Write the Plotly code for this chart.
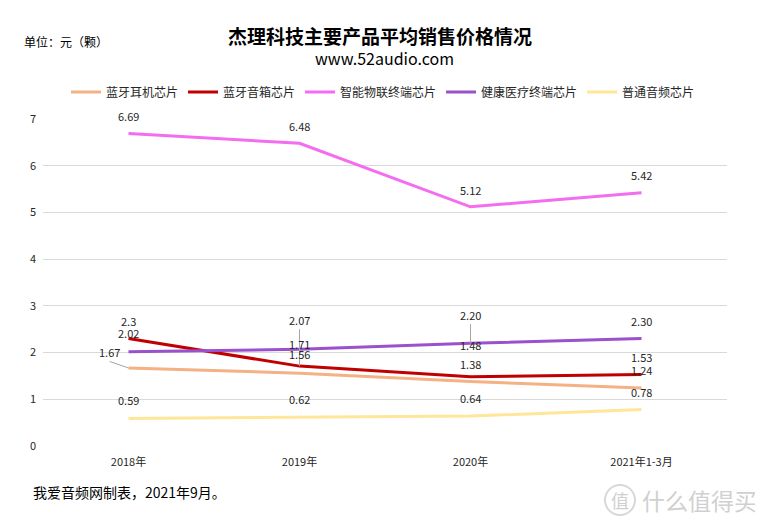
import plotly.graph_objects as go

# ---------------- data ----------------
categories = ["2018年", "2019年", "2020年", "2021年1-3月"]
series_names = ["蓝牙耳机芯片", "蓝牙音箱芯片", "智能物联终端芯片", "健康医疗终端芯片", "普通音频芯片"]
earphone = [1.67, 1.56, 1.38, 1.24]
speaker = [2.30, 1.71, 1.48, 1.53]
iot = [6.69, 6.48, 5.12, 5.42]
health = [2.02, 2.07, 2.20, 2.30]
audio = [0.59, 0.62, 0.64, 0.78]
y_ticks = [0, 1, 2, 3, 4, 5, 6, 7]

values = {
    "蓝牙耳机芯片": earphone,
    "蓝牙音箱芯片": speaker,
    "智能物联终端芯片": iot,
    "健康医疗终端芯片": health,
    "普通音频芯片": audio,
}

# ---------------- styles ----------------
colors = {
    "蓝牙耳机芯片": "#F4B183",
    "蓝牙音箱芯片": "#C00000",
    "智能物联终端芯片": "#F46CF0",
    "健康医疗终端芯片": "#9A52CC",
    "普通音频芯片": "#FFE699",
}
# label offsets (dx in category units, dy in value units) above each point
label_dy = {
    "蓝牙耳机芯片": [0.34, 0.41, 0.38, 0.39],
    "蓝牙音箱芯片": [0.38, 0.48, 0.68, 0.38],
    "智能物联终端芯片": [0.37, 0.37, 0.37, 0.38],
    "健康医疗终端芯片": [0.40, 0.63, 0.61, 0.38],
    "普通音频芯片": [0.40, 0.39, 0.39, 0.38],
}
label_dx = {("蓝牙耳机芯片", 0): -0.11}
label_fmt = {("蓝牙音箱芯片", 0): "{:.1f}"}
# leader lines: (label series, category index, end-point series)
leaders = [("蓝牙耳机芯片", 0, "蓝牙耳机芯片"),
           ("健康医疗终端芯片", 1, "蓝牙音箱芯片"),
           ("健康医疗终端芯片", 2, "健康医疗终端芯片")]

FONT = "Noto Sans CJK SC, Noto Sans, sans-serif"
OFF = 8  # page body margin
W, H = 763 - OFF, 529 - OFF
L, R, T, B = 43 - OFF, 36, 119 - OFF, 83
PW, PH = W - L - R, H - T - B
YMAX = 7
NCAT = len(categories)


def px(x):
    return (x - OFF - L) / PW


def py(y):
    return (H - B - (y - OFF)) / PH


def cat_paper(c):
    return (c + 0.5) / NCAT


fig = go.Figure()
for name in series_names:
    fig.add_trace(go.Scatter(
        x=list(range(NCAT)), y=values[name], name=name, mode="lines",
        line=dict(color=colors[name], width=3), hoverinfo="skip",
    ))

annotations = []
for name in series_names:
    for i, v in enumerate(values[name]):
        fmt = label_fmt.get((name, i), "{:.2f}")
        annotations.append(dict(
            x=cat_paper(i + label_dx.get((name, i), 0)),
            y=(v + label_dy[name][i]) / YMAX,
            xref="paper", yref="paper", text=fmt.format(v), showarrow=False,
            font=dict(family=FONT, size=11, color="#262626"),
            xanchor="center", yanchor="middle",
        ))

shapes = []
for lab, i, end in leaders:
    x0 = i + label_dx.get((lab, i), 0)
    y0 = values[lab][i] + label_dy[lab][i] - 0.2
    shapes.append(dict(type="line", xref="x", yref="y", x0=x0, y0=y0,
                       x1=i, y1=values[end][i], line=dict(color="#A6A6A6", width=1)))

# texts
annotations += [
    dict(x=px(380), y=py(36), xref="paper", yref="paper", showarrow=False,
         text="<b>杰理科技主要产品平均销售价格情况</b>", xanchor="center", yanchor="middle",
         font=dict(family=FONT, size=19, color="#000000")),
    dict(x=px(384), y=py(58), xref="paper", yref="paper", showarrow=False,
         text="www.52audio.com", xanchor="center", yanchor="middle",
         font=dict(family=FONT, size=16, color="#000000")),
    dict(x=px(22), y=py(41), xref="paper", yref="paper", showarrow=False,
         text="单位：元（颗）", xanchor="left", yanchor="middle",
         font=dict(family=FONT, size=12, color="#000000")),
    dict(x=px(31), y=py(492), xref="paper", yref="paper", showarrow=False,
         text="我爱音频网制表，2021年9月。", xanchor="left", yanchor="middle",
         font=dict(family=FONT, size=14, color="#000000")),
    dict(x=px(620), y=py(500), xref="paper", yref="paper", showarrow=False,
         text="值", xanchor="center", yanchor="middle",
         font=dict(family=FONT, size=18, color="#D0D0D0")),
    dict(x=px(699), y=py(500), xref="paper", yref="paper", showarrow=False,
         text="什么值得买", xanchor="center", yanchor="middle",
         font=dict(family=FONT, size=23, color="#D0D0D0")),
]
shapes.append(dict(type="circle", xref="paper", yref="paper",
                   x0=px(605), x1=px(635), y0=py(515), y1=py(485),
                   line=dict(color="#D8D8D8", width=2)))

fig.update_layout(
    width=W, height=H,
    margin=dict(l=L, r=R, t=T, b=B, autoexpand=False),
    paper_bgcolor="white", plot_bgcolor="white",
    font=dict(family=FONT, size=11, color="#262626"),
    showlegend=True,
    legend=dict(orientation="h", x=px(383), xanchor="center", y=py(92), yanchor="middle",
                font=dict(family=FONT, size=12, color="#262626"), itemwidth=30,
                tracegroupgap=0, bgcolor="rgba(0,0,0,0)"),
    xaxis=dict(range=[-0.5, NCAT - 0.5], tickmode="array",
               tickvals=list(range(NCAT)), ticktext=categories,
               showgrid=False, zeroline=False, showline=False, ticks="",
               ticklabelstandoff=8,
               tickfont=dict(family=FONT, size=11, color="#262626")),
    yaxis=dict(range=[0, YMAX], tickmode="array", tickvals=y_ticks,
               ticktext=[str(t) for t in y_ticks],
               showgrid=True, gridcolor="#D9D9D9", gridwidth=1, zeroline=False,
               showline=False, ticks="", ticklabelstandoff=6,
               tickfont=dict(family=FONT, size=11, color="#262626")),
    annotations=annotations,
    shapes=shapes,
)

fig.write_html("out.html")
